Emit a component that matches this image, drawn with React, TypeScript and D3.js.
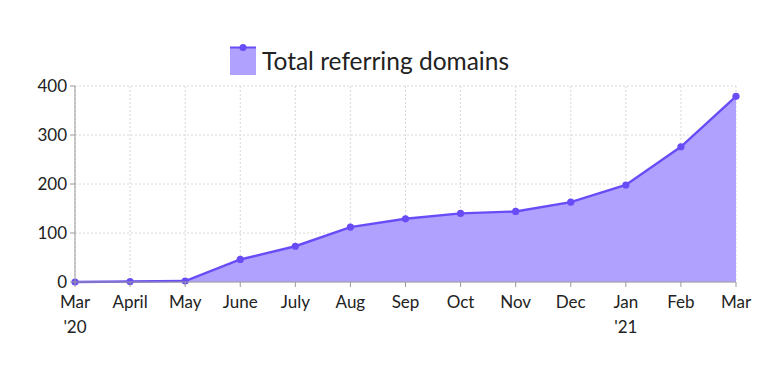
import React from "react";
import * as d3 from "d3";

const months = ["Mar", "April", "May", "June", "July", "Aug", "Sep", "Oct", "Nov", "Dec", "Jan", "Feb", "Mar"];
const yearLabels = ["'20", "", "", "", "", "", "", "", "", "", "'21", "", ""];
const values = [0, 1, 2, 46, 73, 112, 129, 140, 144, 163, 198, 276, 379];
const yTicks = [0, 100, 200, 300, 400];
const seriesName = "Total referring domains";

const W = 768, H = 387;
const M = { left: 75, right: 32, top: 86, bottom: 105 };
const FONT = "Lato, 'Noto Sans', sans-serif";
const LINE = "#6a4cf6";
const FILL = "#b1a1ff";

export default function App() {
  const x = d3.scalePoint<number>().domain(months.map((_, i) => i)).range([M.left, W - M.right]);
  const y = d3.scaleLinear().domain([0, 400]).range([H - M.bottom, M.top]);
  const area = d3.area<number>().x((_, i) => x(i)!).y0(y(0)).y1((d) => y(d));
  const line = d3.line<number>().x((_, i) => x(i)!).y((d) => y(d));
  const x0 = M.left, x1 = W - M.right, yb = y(0), yt = y(400);
  return (
    <svg width={W} height={H} style={{ position: "absolute", left: 0, top: 0, background: "#fff" }}>
      <g fontFamily={FONT}>
        {yTicks.map((t) => (
          <line key={"gy" + t} x1={x0} x2={x1} y1={y(t)} y2={y(t)} stroke="#d8d8d8" strokeDasharray="2,2" />
        ))}
        {months.map((_, i) => (
          <line key={"gx" + i} x1={x(i)} x2={x(i)} y1={yt} y2={yb} stroke="#d8d8d8" strokeDasharray="2,2" />
        ))}
        <path d={area(values)!} fill={FILL} />
        <path d={line(values)!} fill="none" stroke={LINE} strokeWidth={2.4} />
        {values.map((v, i) => (
          <circle key={"p" + i} cx={x(i)} cy={y(v)} r={3.6} fill={LINE} />
        ))}
        <line x1={x0} x2={x0} y1={yt} y2={yb} stroke="#9a9a9a" />
        <line x1={x0} x2={x1} y1={yb} y2={yb} stroke="#9a9a9a" />
        {yTicks.map((t) => (
          <g key={"ty" + t}>
            <line x1={x0 - 5} x2={x0} y1={y(t)} y2={y(t)} stroke="#9a9a9a" />
            <text x={x0 - 8} y={y(t)} dy="0.35em" textAnchor="end" fontSize={17} fill="#222">{t}</text>
          </g>
        ))}
        {months.map((m, i) => (
          <g key={"tx" + i}>
            <line x1={x(i)} x2={x(i)} y1={yb} y2={yb + 5} stroke="#9a9a9a" />
            <text x={x(i)} y={yb + 26} textAnchor="middle" fontSize={17} fill="#222">{m}</text>
            {yearLabels[i] && (
              <text x={x(i)} y={yb + 51} textAnchor="middle" fontSize={17} fill="#222">{yearLabels[i]}</text>
            )}
          </g>
        ))}
        <g>
          <rect x={230} y={47} width={26} height={28} fill={FILL} />
          <line x1={230} x2={256} y1={47.5} y2={47.5} stroke={LINE} strokeWidth={2} />
          <circle cx={243} cy={47.5} r={3.5} fill={LINE} />
          <text x={262} y={70} fontSize={24.5} fill="#222">{seriesName}</text>
        </g>
      </g>
    </svg>
  );
}
